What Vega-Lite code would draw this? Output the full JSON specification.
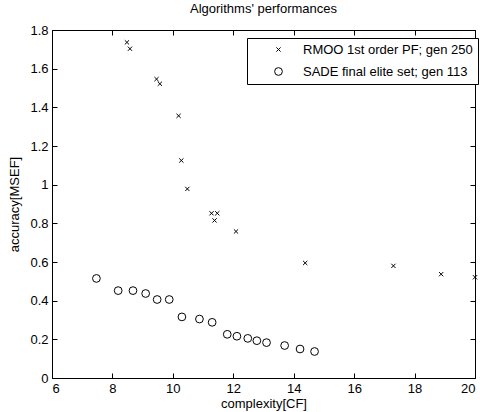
{
  "$schema": "https://vega.github.io/schema/vega-lite/v6.json",
  "width": 423,
  "height": 348,
  "autosize": {"type": "none"},
  "padding": {"left": 52, "top": 30, "right": 5, "bottom": 34},
  "background": "white",
  "config": {
    "font": "Liberation Sans",
    "view": {"stroke": "black", "strokeWidth": 1},
    "axis": {
      "grid": false,
      "domainColor": "black",
      "labelColor": "black",
      "titleColor": "black",
      "labelFont": "Liberation Sans",
      "titleFont": "Liberation Sans",
      "labelFontSize": 13,
      "titleFontSize": 13,
      "titleFontWeight": "normal"
    }
  },
  "title": {
    "text": "Algorithms' performances",
    "fontSize": 13,
    "fontWeight": "normal",
    "font": "Liberation Sans",
    "color": "black",
    "offset": 8
  },
  "data": {
    "values": [
      {"series": "RMOO 1st order PF; gen 250", "cf": 8.48, "msef": 1.736},
      {"series": "RMOO 1st order PF; gen 250", "cf": 8.58, "msef": 1.703},
      {"series": "RMOO 1st order PF; gen 250", "cf": 9.46, "msef": 1.546},
      {"series": "RMOO 1st order PF; gen 250", "cf": 9.57, "msef": 1.522},
      {"series": "RMOO 1st order PF; gen 250", "cf": 10.19, "msef": 1.356},
      {"series": "RMOO 1st order PF; gen 250", "cf": 10.28, "msef": 1.125},
      {"series": "RMOO 1st order PF; gen 250", "cf": 10.48, "msef": 0.978},
      {"series": "RMOO 1st order PF; gen 250", "cf": 11.28, "msef": 0.852},
      {"series": "RMOO 1st order PF; gen 250", "cf": 11.47, "msef": 0.852},
      {"series": "RMOO 1st order PF; gen 250", "cf": 11.38, "msef": 0.815},
      {"series": "RMOO 1st order PF; gen 250", "cf": 12.09, "msef": 0.758},
      {"series": "RMOO 1st order PF; gen 250", "cf": 14.38, "msef": 0.595},
      {"series": "RMOO 1st order PF; gen 250", "cf": 17.3, "msef": 0.58},
      {"series": "RMOO 1st order PF; gen 250", "cf": 18.88, "msef": 0.537},
      {"series": "RMOO 1st order PF; gen 250", "cf": 20.0, "msef": 0.521},
      {"series": "SADE final elite set; gen 113", "cf": 7.47, "msef": 0.515},
      {"series": "SADE final elite set; gen 113", "cf": 8.19, "msef": 0.452},
      {"series": "SADE final elite set; gen 113", "cf": 8.68, "msef": 0.452},
      {"series": "SADE final elite set; gen 113", "cf": 9.1, "msef": 0.437},
      {"series": "SADE final elite set; gen 113", "cf": 9.48, "msef": 0.406},
      {"series": "SADE final elite set; gen 113", "cf": 9.88, "msef": 0.406},
      {"series": "SADE final elite set; gen 113", "cf": 10.3, "msef": 0.316},
      {"series": "SADE final elite set; gen 113", "cf": 10.88, "msef": 0.305},
      {"series": "SADE final elite set; gen 113", "cf": 11.3, "msef": 0.288},
      {"series": "SADE final elite set; gen 113", "cf": 11.8, "msef": 0.226},
      {"series": "SADE final elite set; gen 113", "cf": 12.12, "msef": 0.216},
      {"series": "SADE final elite set; gen 113", "cf": 12.48, "msef": 0.205},
      {"series": "SADE final elite set; gen 113", "cf": 12.78, "msef": 0.193},
      {"series": "SADE final elite set; gen 113", "cf": 13.1, "msef": 0.183},
      {"series": "SADE final elite set; gen 113", "cf": 13.7, "msef": 0.168},
      {"series": "SADE final elite set; gen 113", "cf": 14.21, "msef": 0.15},
      {"series": "SADE final elite set; gen 113", "cf": 14.69, "msef": 0.137}
    ]
  },
  "layer": [
    {
      "mark": {"type": "point", "filled": false, "stroke": "black", "strokeWidth": 1, "opacity": 1, "clip": false},
      "encoding": {
        "x": {
          "field": "cf", "type": "quantitative",
          "scale": {"domain": [6, 20], "nice": false, "zero": false},
          "axis": {"title": "complexity[CF]", "values": [6, 8, 10, 12, 14, 16, 18, 20], "ticks": false, "labelPadding": 4, "titlePadding": 2}
        },
        "y": {
          "field": "msef", "type": "quantitative",
          "scale": {"domain": [0, 1.8], "nice": false},
          "axis": {"title": "accuracy[MSEF]", "values": [0, 0.2, 0.4, 0.6, 0.8, 1, 1.2, 1.4, 1.6, 1.8], "format": "~g", "ticks": false, "labelPadding": 4, "titlePadding": 8}
        },
        "shape": {
          "field": "series", "type": "nominal",
          "scale": {"domain": ["RMOO 1st order PF; gen 250", "SADE final elite set; gen 113"], "range": ["M-1,-1L1,1M1,-1L-1,1", "circle"]},
          "legend": {
            "title": null,
            "orient": "none",
            "legendX": 195,
            "legendY": 8,
            "padding": 5,
            "symbolOffset": 20,
            "labelOffset": 18,
            "labelLimit": 400,
            "labelFontSize": 13,
            "labelFont": "Liberation Sans",
            "labelColor": "black",
            "strokeColor": "black",
            "fillColor": "white",
            "symbolStrokeColor": "black",
            "symbolFillColor": "transparent",
            "symbolStrokeWidth": 1,
            "rowPadding": 8
          }
        },
        "size": {
          "field": "series", "type": "nominal",
          "scale": {"domain": ["RMOO 1st order PF; gen 250", "SADE final elite set; gen 113"], "range": [18, 60]}
        }
      }
    },
    {
      "mark": {"type": "point", "opacity": 0},
      "encoding": {
        "x": {"field": "cf", "type": "quantitative", "axis": {"orient": "top", "offset": -348, "ticks": true, "tickColor": "black", "tickSize": 5, "tickWidth": 1, "tickCount": 7, "labels": false, "domain": false, "title": null}},
        "y": {"field": "msef", "type": "quantitative", "axis": {"orient": "right", "offset": -423, "ticks": true, "tickColor": "black", "tickSize": 5, "tickWidth": 1, "tickCount": 9, "labels": false, "domain": false, "title": null}}
      }
    },
    {
      "mark": {"type": "point", "opacity": 0},
      "encoding": {
        "x": {"field": "cf", "type": "quantitative", "axis": {"orient": "bottom", "offset": -348, "ticks": true, "tickColor": "black", "tickSize": 5, "tickWidth": 1, "tickCount": 7, "labels": false, "domain": false, "title": null}},
        "y": {"field": "msef", "type": "quantitative", "axis": {"orient": "left", "offset": -423, "ticks": true, "tickColor": "black", "tickSize": 5, "tickWidth": 1, "tickCount": 9, "labels": false, "domain": false, "title": null}}
      }
    }
  ],
  "resolve": {"scale": {"x": "shared", "y": "shared"}, "axis": {"x": "independent", "y": "independent"}}
}
